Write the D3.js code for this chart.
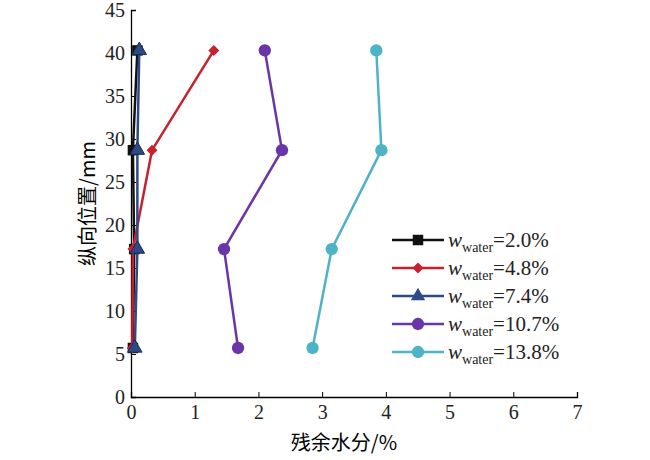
<!DOCTYPE html>
<html><head><meta charset="utf-8">
<script src="https://cdn.jsdelivr.net/npm/d3@7"></script>
<style>body{margin:0;background:#fff}</style>
</head><body>
<svg id="chart" width="650" height="460"></svg>
<script>
const positions = [40.3, 28.7, 17.2, 5.7];
const labels = ["2.0%", "4.8%", "7.4%", "10.7%", "13.8%"];
const w20 = [0.1, 0.03, 0.05, 0.03];
const w48 = [1.3, 0.33, 0.03, 0.02];
const w74 = [0.13, 0.1, 0.1, 0.06];
const w107 = [2.1, 2.37, 1.46, 1.68];
const w138 = [3.85, 3.93, 3.15, 2.85];
const colors = ["#111111", "#c8202e", "#2e4a86", "#6a35a8", "#4fb3c6"];
const symbols = [d3.symbolSquare, d3.symbolSquare, d3.symbolTriangle, d3.symbolCircle, d3.symbolCircle];
const symSize = [110, 60, 90, 120, 120];
const symRot = [0, 45, 0, 0, 0];

const series = [w20, w48, w74, w107, w138].map((v, i) => ({
  label: labels[i], color: colors[i], sym: symbols[i], size: symSize[i], rot: symRot[i],
  pts: v.map((x, j) => ({x: x, y: positions[j]}))
}));

const margin = {left: 131, right: 73, top: 10, bottom: 63};
const width = 650, height = 460;
const x = d3.scaleLinear().domain([0, 7]).range([margin.left, width - margin.right]);
const y = d3.scaleLinear().domain([0, 45]).range([height - margin.bottom, margin.top]);

const svg = d3.select("#chart").attr("font-family", "Liberation Serif, serif");

svg.append("g").attr("transform", `translate(0,${y(0)})`)
  .call(d3.axisBottom(x).ticks(7).tickSize(-5).tickPadding(8))
  .attr("font-family", "Liberation Serif, serif")
  .call(g => g.select(".domain").attr("stroke-width", 1.3))
  .selectAll("text").attr("font-size", 20).attr("fill", "#222");
svg.append("g").attr("transform", `translate(${x(0)},0)`)
  .call(d3.axisLeft(y).ticks(9).tickSize(-5).tickPadding(6))
  .attr("font-family", "Liberation Serif, serif")
  .call(g => g.select(".domain").attr("stroke-width", 1.3))
  .selectAll("text").attr("font-size", 20).attr("fill", "#222");

const line = d3.line().x(d => x(d.x)).y(d => y(d.y));
series.forEach(s => {
  svg.append("path").datum(s.pts).attr("d", line)
    .attr("fill", "none").attr("stroke", s.color).attr("stroke-width", 2.5);
  svg.selectAll(null).data(s.pts).join("path")
    .attr("transform", d => `translate(${x(d.x)},${y(d.y)}) rotate(${s.rot})`)
    .attr("d", d3.symbol(s.sym, s.size))
    .attr("fill", s.color).attr("stroke", s.color === "#2e4a86" ? "#1a2a55" : "none");
});

svg.append("text").attr("x", (x(0) + x(7)) / 2 - 10).attr("y", 450)
  .attr("text-anchor", "middle").attr("font-size", 20)
  .attr("font-family", "Noto Sans CJK SC").text("残余水分/%");
svg.append("text").attr("transform", `translate(95,${y(22.5)}) rotate(-90)`)
  .attr("text-anchor", "middle").attr("font-size", 20)
  .attr("font-family", "Noto Sans CJK SC").text("纵向位置/mm");

const lg = svg.append("g").attr("transform", "translate(392,240)");
series.forEach((s, i) => {
  const g = lg.append("g").attr("transform", `translate(0,${i * 28})`);
  g.append("line").attr("x1", 0).attr("x2", 52).attr("stroke", s.color).attr("stroke-width", 2.5);
  g.append("path").attr("transform", `translate(26,0) rotate(${s.rot})`).attr("d", d3.symbol(s.sym, s.size)).attr("fill", s.color);
  const t = g.append("text").attr("x", 56).attr("y", 7).attr("font-size", 21).attr("fill", "#222");
  t.append("tspan").attr("font-style", "italic").text("w");
  t.append("tspan").attr("font-size", 14).attr("dy", 5).text("water");
  t.append("tspan").attr("dy", -5).text("=" + s.label);
});
</script>
</body></html>
